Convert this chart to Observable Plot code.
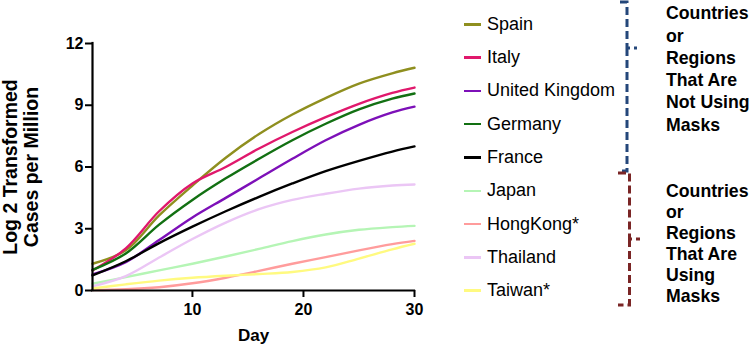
<!DOCTYPE html>
<html><head><meta charset="utf-8">
<script src="https://cdn.jsdelivr.net/npm/d3@7"></script>
<script src="https://cdn.jsdelivr.net/npm/@observablehq/plot@0.6"></script>
<style>
body{margin:0;background:#fff;font-family:"Liberation Sans",Arial,sans-serif;color:#000}
#wrap{position:relative;width:751px;height:352px;overflow:hidden;background:#fff}
#wrap > svg{position:absolute;left:0;top:0}
.leg{position:absolute;left:464px;height:24px;display:flex;align-items:center;font-size:18px;white-space:nowrap}
.leg .sw{display:inline-block;width:17px;height:2.5px;margin-right:6px}
.grp{position:absolute;left:666px;font-weight:bold;font-size:17.7px;white-space:pre}
</style></head><body><div id="wrap"></div>
<script>
const days     = [1, 4, 7, 10, 13, 16, 19, 22, 25, 28, 30];
const spain    = [1.30, 1.95, 3.65, 5.10, 6.45, 7.60, 8.55, 9.35, 10.05, 10.55, 10.82];
const italy    = [0.97, 2.05, 3.85, 5.20, 6.00, 6.90, 7.70, 8.42, 9.07, 9.60, 9.86];
const uk       = [0.78, 1.38, 2.45, 3.55, 4.50, 5.45, 6.40, 7.30, 8.05, 8.65, 8.93];
const germany  = [1.00, 1.80, 3.20, 4.40, 5.45, 6.40, 7.30, 8.10, 8.80, 9.32, 9.57];
const france   = [0.73, 1.42, 2.30, 3.10, 3.85, 4.55, 5.20, 5.80, 6.30, 6.75, 7.00];
const japan    = [0.33, 0.65, 0.98, 1.30, 1.65, 2.02, 2.40, 2.72, 2.95, 3.08, 3.14];
const hongkong = [0.02, 0.06, 0.16, 0.35, 0.62, 0.95, 1.30, 1.62, 1.95, 2.25, 2.41];
const thailand = [0.20, 0.70, 1.60, 2.50, 3.30, 3.95, 4.40, 4.70, 4.95, 5.10, 5.15];
const taiwan   = [0.10, 0.30, 0.48, 0.62, 0.72, 0.80, 0.90, 1.12, 1.55, 2.00, 2.27];

const seriesNames  = ["Spain", "Italy", "United Kingdom", "Germany", "France", "Japan", "HongKong*", "Thailand", "Taiwan*"];
const seriesValues = [spain, italy, uk, germany, france, japan, hongkong, thailand, taiwan];
const colors = ["#8f8f1f", "#e0186c", "#7d10b8", "#127012", "#000000", "#b5f5b5", "#ff9c9c", "#ebc6f5", "#fffa80"];
const xTicks = [10, 20, 30];
const yTicks = [0, 3, 6, 9, 12];
const xLabel = "Day";
const yLabel = "Log 2 Transformed\nCases per Million";
const groupLabels = ["Countries\nor\nRegions\nThat Are\nNot Using\nMasks", "Countries\nor\nRegions\nThat Are\nUsing\nMasks"];

const rows = seriesNames.flatMap((name, i) => days.map((d, j) => ({name, day: d, value: seriesValues[i][j]})));

const chart = Plot.plot({
  width: 751, height: 352,
  marginLeft: 92, marginRight: 337, marginTop: 43, marginBottom: 62,
  x: {domain: [1, 30]},
  y: {domain: [0, 12]},
  color: {domain: seriesNames, range: colors},
  style: {fontFamily: "'Liberation Sans', Arial, sans-serif", background: "white", color: "black", overflow: "visible"},
  marks: [
    Plot.line(rows, {x: "day", y: "value", z: "name", stroke: "name", strokeWidth: 2.4, curve: "catmull-rom"}),
    Plot.axisX({ticks: xTicks, tickSize: 7, strokeWidth: 2, fontSize: 16, fontWeight: "bold", tickPadding: 6, label: null}),
    Plot.axisY({ticks: yTicks, tickSize: 7, strokeWidth: 2, fontSize: 16, fontWeight: "bold", tickPadding: 2, label: null}),
    Plot.ruleY([0], {strokeWidth: 2.2, strokeLinecap: "square"}),
    Plot.ruleX([1], {strokeWidth: 2.2, strokeLinecap: "square"}),
    Plot.text([xLabel], {frameAnchor: "bottom", dy: 50, fontSize: 17, fontWeight: "bold"}),
    Plot.text([yLabel], {frameAnchor: "left", textAnchor: "middle", dx: -72, rotate: -90, fontSize: 19.5, fontWeight: "bold", lineHeight: 1.1})
  ]
});

const wrap = document.getElementById("wrap");
wrap.appendChild(chart);

// legend
seriesNames.forEach((name, i) => {
  const row = document.createElement("div");
  row.className = "leg";
  row.style.top = (24.3 + i * 33.3 - 12) + "px";
  const sw = document.createElement("span");
  sw.className = "sw";
  sw.style.background = colors[i];
  row.appendChild(sw);
  row.appendChild(document.createTextNode(name));
  wrap.appendChild(row);
});

// group labels
const grpTops = [2.3, 181];
const grpLH = [22.3, 21];
groupLabels.forEach((t, i) => {
  const g = document.createElement("div");
  g.className = "grp";
  g.style.top = grpTops[i] + "px";
  g.style.lineHeight = grpLH[i] + "px";
  g.textContent = t;
  wrap.appendChild(g);
});

// braces
const ns = "http://www.w3.org/2000/svg";
const bs = document.createElementNS(ns, "svg");
bs.setAttribute("width", 751); bs.setAttribute("height", 352);
bs.style.pointerEvents = "none";
const braces = [
  {d: "M620,2 H627 V48 H637 M627,48 V171 H618", c: "#24477a"},
  {d: "M618,173 H629.5 V239 H640 M629.5,239 V305 H618", c: "#7a2525"}
];
braces.forEach(b => {
  const p = document.createElementNS(ns, "path");
  p.setAttribute("d", b.d);
  p.setAttribute("fill", "none");
  p.setAttribute("stroke", b.c);
  p.setAttribute("stroke-width", 3);
  p.setAttribute("stroke-dasharray", "8 4");
  bs.appendChild(p);
});
wrap.appendChild(bs);
</script></body></html>
